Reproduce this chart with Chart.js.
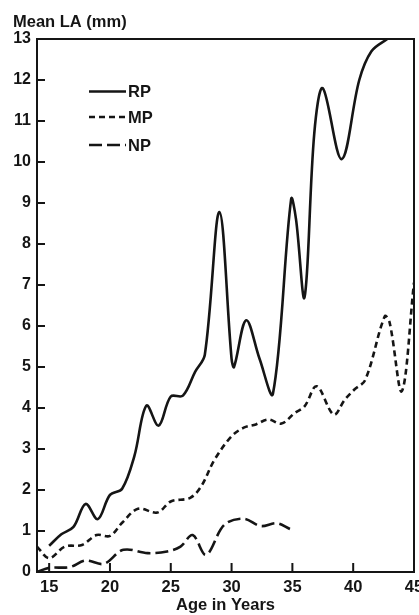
<!DOCTYPE html>
<html>
<head>
<meta charset="utf-8">
<script src="https://cdn.jsdelivr.net/npm/chart.js@4.4.1/dist/chart.umd.min.js"></script>
<style>
  html, body { margin: 0; padding: 0; background: #fff; }
  #wrap { width: 419px; height: 615px; position: relative; }
</style>
</head>
<body>
<div id="wrap"><canvas id="grafico" width="419" height="615"></canvas></div>
<script>
// data (age in years -> mean LA in mm)
const rpAges   = [15, 16, 17, 18, 19, 20, 21, 22, 23, 24, 25, 26, 27, 27.8, 29, 30, 30.2, 31.2, 32.3, 33.4, 34.9, 35.3, 36, 36.8, 37.5, 39.05, 40.5, 41.5, 42.8];
const rpValues = [0.64, 0.92, 1.1, 1.66, 1.29, 1.88, 2.03, 2.82, 4.06, 3.57, 4.28, 4.3, 4.88, 5.3, 8.78, 5.2, 5.0, 6.14, 5.2, 4.35, 9.1, 8.6, 6.7, 10.7, 11.8, 10.07, 12.0, 12.7, 13.0];

const mpAges   = [14, 15, 16.3, 17.7, 18.9, 20, 21, 22.3, 23.9, 25, 26.6, 27.5, 28.6, 30, 31, 32, 33, 34.1, 35.2, 36, 37, 38.4, 39.3, 40.1, 41, 42.6, 43, 44, 45];
const mpValues = [0.62, 0.34, 0.62, 0.66, 0.9, 0.88, 1.2, 1.54, 1.45, 1.72, 1.81, 2.09, 2.74, 3.31, 3.52, 3.6, 3.72, 3.62, 3.88, 4.04, 4.53, 3.84, 4.2, 4.45, 4.69, 6.24, 6.08, 4.41, 7.06];

const npAges   = [14, 15, 16.7, 18, 19.5, 21.1, 23.1, 24.7, 25.8, 26.8, 27.9, 29.4, 31, 32.4, 33.7, 34.8];
const npValues = [0, 0.1, 0.12, 0.28, 0.2, 0.54, 0.46, 0.5, 0.62, 0.9, 0.42, 1.15, 1.3, 1.12, 1.19, 1.05];

const seriesLabels = ['RP', 'MP', 'NP'];
const xTicks = [15, 20, 25, 30, 35, 40, 45];
const yTicks = [0, 1, 2, 3, 4, 5, 6, 7, 8, 9, 10, 11, 12, 13];

const ink = '#151515';
const fuente = 'Liberation Sans, Arial, Helvetica, sans-serif';

function juntar(xs, ys) {
  return xs.map((x, i) => ({ x: x, y: ys[i] }));
}

// ticks drawn inward, frame on all four sides, legend and y title
const marco = {
  id: 'marco',
  afterDraw(chart) {
    const ctx = chart.ctx;
    const a = chart.chartArea;
    const sx = chart.scales.x;
    const sy = chart.scales.y;
    ctx.save();
    ctx.strokeStyle = ink;
    ctx.lineWidth = 2;
    ctx.strokeRect(a.left, a.top, a.right - a.left, a.bottom - a.top);
    ctx.beginPath();
    yTicks.forEach(v => {
      const py = sy.getPixelForValue(v);
      ctx.moveTo(a.left, py);
      ctx.lineTo(a.left + 8, py);
    });
    xTicks.forEach(v => {
      const px = sx.getPixelForValue(v);
      ctx.moveTo(px, a.bottom);
      ctx.lineTo(px, a.bottom - 9);
    });
    ctx.stroke();

    // title of the y axis
    ctx.fillStyle = ink;
    ctx.font = 'bold 16.5px ' + fuente;
    ctx.textAlign = 'left';
    ctx.textBaseline = 'alphabetic';
    ctx.fillText('Mean LA (mm)', 13, 27);

    // legend inside the plot
    ctx.font = 'bold 16.5px ' + fuente;
    ctx.textBaseline = 'middle';
    const filas = [91.5, 117, 145];
    chart.data.datasets.forEach((ds, i) => {
      const y = filas[i];
      ctx.beginPath();
      ctx.lineWidth = 2.5;
      ctx.setLineDash(ds.borderDash || []);
      ctx.moveTo(89, y);
      ctx.lineTo(126, y);
      ctx.stroke();
      ctx.setLineDash([]);
      ctx.fillText(ds.label, 128, y + 1);
    });
    ctx.restore();
  }
};

const ctx = document.getElementById('grafico').getContext('2d');
const grafico = new Chart(ctx, {
  type: 'line',
  data: {
    datasets: [
      { label: seriesLabels[0], data: juntar(rpAges, rpValues), borderDash: [] },
      { label: seriesLabels[1], data: juntar(mpAges, mpValues), borderDash: [6, 4] },
      { label: seriesLabels[2], data: juntar(npAges, npValues), borderDash: [13, 5] }
    ].map(ds => Object.assign(ds, {
      borderColor: ink,
      borderWidth: 2.6,
      pointRadius: 0,
      fill: false,
      tension: 0.35
    }))
  },
  options: {
    responsive: false,
    animation: false,
    layout: { padding: { top: 39, right: 5, bottom: 0, left: 0 } },
    plugins: {
      legend: { display: false },
      tooltip: { enabled: false }
    },
    scales: {
      x: {
        type: 'linear',
        min: 14,
        max: 45,
        grid: { display: false, drawTicks: false },
        border: { display: false },
        afterBuildTicks: s => { s.ticks = xTicks.map(v => ({ value: v })); },
        afterFit: s => { s.height = 43; s.paddingLeft = 0; s.paddingRight = 0; },
        ticks: {
          padding: 6,
          color: ink,
          maxRotation: 0,
          font: { family: fuente, size: 16.5, weight: 'bold' }
        },
        title: {
          display: true,
          text: 'Age in Years',
          color: ink,
          padding: { top: 0, bottom: 0 },
          font: { family: fuente, size: 16.5, weight: 'bold' }
        }
      },
      y: {
        min: 0,
        max: 13,
        grid: { display: false, drawTicks: false },
        border: { display: false },
        afterBuildTicks: s => { s.ticks = yTicks.map(v => ({ value: v })); },
        afterFit: s => { s.width = 37; s.paddingTop = 0; s.paddingBottom = 0; },
        ticks: {
          padding: 6,
          color: ink,
          font: { family: fuente, size: 16, weight: 'bold' }
        }
      }
    }
  },
  plugins: [marco]
});
</script>
</body>
</html>
